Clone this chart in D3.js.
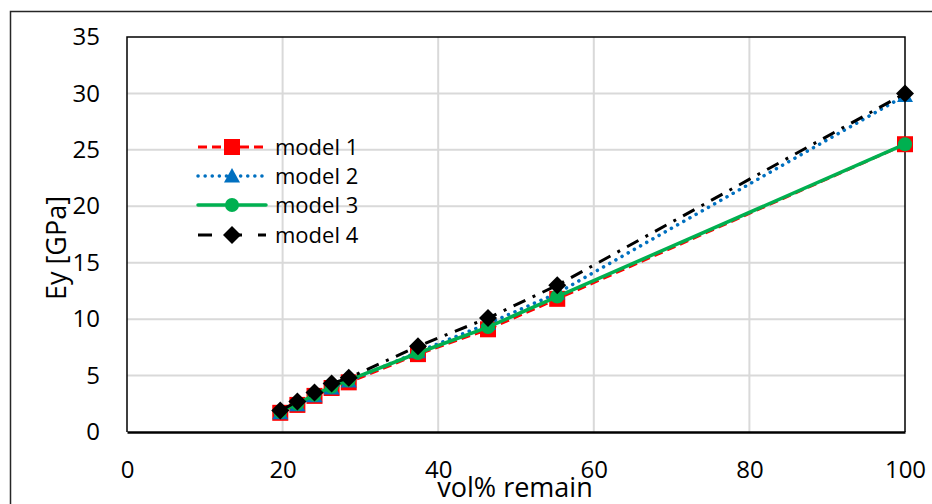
<!DOCTYPE html>
<html><head><meta charset="utf-8">
<script src="https://cdn.jsdelivr.net/npm/d3@7"></script>
<style>
html,body{margin:0;padding:0;background:#fff;}
svg{display:block;font-family:"Open Sans","Noto Sans",sans-serif;}
</style></head>
<body><svg id="c" width="932" height="504"></svg>
<script>
const volRemain = [19.7, 21.9, 24.1, 26.3, 28.5, 37.4, 46.4, 55.3, 100];
const model1 = [1.7, 2.4, 3.2, 3.9, 4.4, 6.9, 9.1, 11.8, 25.5];
const model2 = [1.7, 2.4, 3.2, 3.9, 4.5, 7.1, 9.6, 12.3, 29.8];
const model3 = [1.8, 2.5, 3.3, 4.0, 4.6, 7.0, 9.3, 12.0, 25.5];
const model4 = [1.9, 2.7, 3.5, 4.3, 4.8, 7.6, 10.1, 13.0, 30.0];
const seriesNames = ["model 1", "model 2", "model 3", "model 4"];
const xTicks = [0, 20, 40, 60, 80, 100];
const yTicks = [0, 5, 10, 15, 20, 25, 30, 35];

const svg = d3.select("#c");
const L = 127, R = 905, T = 37, B = 432;
const x = d3.scaleLinear().domain([0, 100]).range([L, R]);
const y = d3.scaleLinear().domain([0, 35]).range([B, T]);

// outer chart border
svg.append("rect").attr("x", 10.5).attr("y", 11.5).attr("width", 940).attr("height", 520)
  .attr("fill", "none").attr("stroke", "#262626").attr("stroke-width", 1.5);

// gridlines
const grid = svg.append("g");
grid.selectAll(".gy").data(yTicks.filter(d => d > 0 && d < 35)).join("line")
  .attr("x1", L).attr("x2", R).attr("y1", d => y(d)).attr("y2", d => y(d))
  .attr("stroke", "#d9d9d9").attr("stroke-width", 2);
grid.selectAll(".gx").data(xTicks.filter(d => d > 0 && d < 100)).join("line")
  .attr("y1", T).attr("y2", B).attr("x1", d => x(d)).attr("x2", d => x(d))
  .attr("stroke", "#d9d9d9").attr("stroke-width", 2);

// plot frame
svg.append("path").attr("d", `M${L},${B}V${T}H${R}V${B}`)
  .attr("fill", "none").attr("stroke", "#000").attr("stroke-width", 1.5);

// axes (labels via d3 axes)
const xAxis = svg.append("g").attr("transform", `translate(0,${B})`)
  .call(d3.axisBottom(x).tickValues(xTicks).tickSize(0).tickPadding(29).tickFormat(d3.format("d")));
xAxis.select(".domain").attr("stroke", "#000").attr("stroke-width", 2.5);
xAxis.selectAll("text").attr("font-size", 24).attr("fill", "#000")
  .attr("font-family", '"Open Sans","Noto Sans",sans-serif');

const yAxis = svg.append("g").attr("transform", `translate(${L},0)`)
  .call(d3.axisLeft(y).tickValues(yTicks).tickSize(0).tickPadding(27).tickFormat(d3.format("d")));
yAxis.select(".domain").remove();
yAxis.selectAll("text").attr("font-size", 24).attr("fill", "#000")
  .attr("font-family", '"Open Sans","Noto Sans",sans-serif');

// axis titles
svg.append("text").attr("x", 515).attr("y", 497).attr("text-anchor", "middle")
  .attr("font-size", 27).attr("fill", "#000").text("vol% remain");
svg.append("text").attr("transform", "translate(66,248) rotate(-90)").attr("text-anchor", "middle")
  .attr("font-size", 27).attr("fill", "#000").text("Ey [GPa]");

// series styles
const styles = [
  {color: "#ff0000", dash: "9,5", cap: "butt", width: 3, marker: "square", size: 16},
  {color: "#0070c0", dash: "0.1,7", cap: "round", width: 3.5, marker: "triangle", size: 16},
  {color: "#00b050", dash: null, cap: "round", width: 3.5, marker: "circle", size: 14},
  {color: "#000000", dash: "13,8,3,8", cap: "butt", width: 3, marker: "diamond", size: 18},
];
const allData = [model1, model2, model3, model4];

function markerPath(type, s) {
  const h = s / 2;
  if (type === "square") return `M${-h},${-h}H${h}V${h}H${-h}Z`;
  if (type === "triangle") return `M0,${-h}L${h},${h * 0.8}H${-h}Z`;
  if (type === "diamond") return `M0,${-h}L${h},0L0,${h}L${-h},0Z`;
  return d3.symbol(d3.symbolCircle, Math.PI * h * h)();
}

const line = d3.line().x(d => x(d[0])).y(d => y(d[1]));
allData.forEach((vals, i) => {
  const st = styles[i];
  const pts = volRemain.map((v, j) => [v, vals[j]]);
  const g = svg.append("g");
  const p = g.append("path").attr("d", line(pts)).attr("fill", "none")
    .attr("stroke", st.color).attr("stroke-width", st.width).attr("stroke-linecap", st.cap);
  if (st.dash) p.attr("stroke-dasharray", st.dash);
  g.selectAll(".m").data(pts).join("path")
    .attr("transform", d => `translate(${x(d[0])},${y(d[1])})`)
    .attr("d", markerPath(st.marker, st.size)).attr("fill", st.color);
});

// legend
const legY = [147, 176, 205, 235];
const leg = svg.append("g");
seriesNames.forEach((name, i) => {
  const st = styles[i];
  const g = leg.append("g").attr("transform", `translate(0,${legY[i]})`);
  const l = g.append("line").attr("x1", 198).attr("x2", 266).attr("y1", 0).attr("y2", 0)
    .attr("stroke", st.color).attr("stroke-width", st.width).attr("stroke-linecap", st.cap);
  if (st.dash) l.attr("stroke-dasharray", i === 3 ? "14,16" : st.dash);
  g.append("path").attr("transform", "translate(232,0)").attr("d", markerPath(st.marker, st.size)).attr("fill", st.color);
  g.append("text").attr("x", 275).attr("y", 0).attr("dy", "0.35em").attr("font-size", 22)
    .attr("fill", "#000").text(name);
});
</script></body></html>
